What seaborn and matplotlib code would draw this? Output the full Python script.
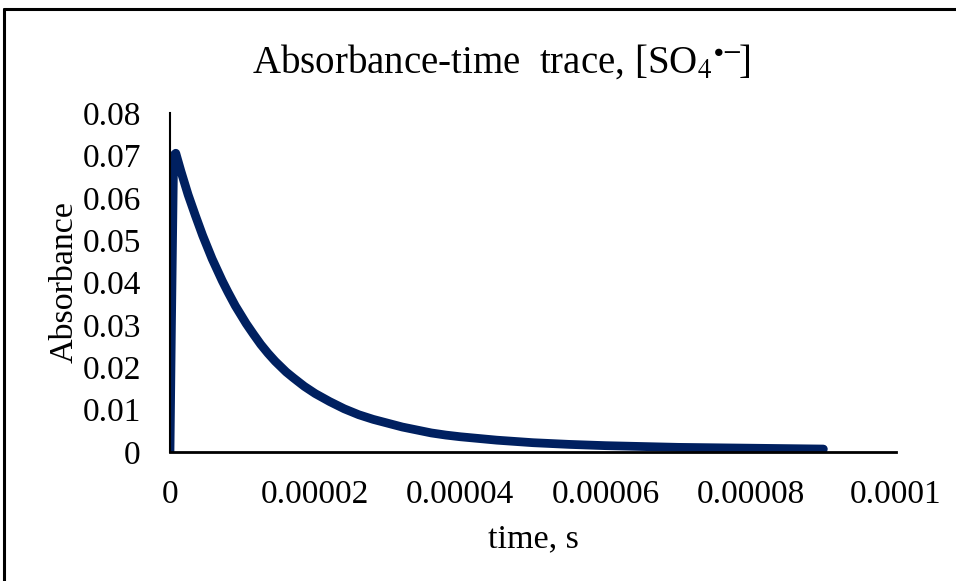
import matplotlib
matplotlib.use("Agg")
import matplotlib.pyplot as plt
from matplotlib.lines import Line2D
import pandas as pd
import seaborn as sns

# Transient absorbance of the sulfate radical anion after the flash
time_us = [0.0, 0.2, 0.5, 0.8, 1.5, 2.5, 3.5, 4.5, 5.8, 6.5, 7.2, 8.0, 9.0,
           10.5, 11.5, 12.5, 13.5, 14.5, 16.0, 17.0, 18.5, 20.0, 22.0, 24.0,
           26.0, 28.0, 30.0, 32.0, 34.0, 36.0, 38.0, 40.0, 45.0, 50.0, 55.0,
           60.0, 65.0, 70.0, 75.0, 80.0, 85.0, 90.0]
absorbance = [0.0, 0.030, 0.0700, 0.0705, 0.0663, 0.0607, 0.0558, 0.0511,
              0.0456, 0.0430, 0.0404, 0.0377, 0.0345, 0.0303, 0.0278,
              0.0254, 0.0233, 0.0214, 0.0189, 0.0175, 0.0155, 0.0138,
              0.0119, 0.0102, 0.0088, 0.0077, 0.0068, 0.0059, 0.0052,
              0.0045, 0.0040, 0.0036, 0.0028, 0.0022, 0.0018, 0.0015,
              0.0013, 0.0011, 0.0010, 0.0009, 0.0008, 0.0007]

x_ticks = [0, 0.00002, 0.00004, 0.00006, 0.00008, 0.0001]
x_tick_labels = ["0", "0.00002", "0.00004", "0.00006", "0.00008", "0.0001"]
y_ticks = [0, 0.01, 0.02, 0.03, 0.04, 0.05, 0.06, 0.07, 0.08]
y_tick_labels = ["0", "0.01", "0.02", "0.03", "0.04", "0.05", "0.06", "0.07", "0.08"]

df = pd.DataFrame({"time": [t * 1e-6 for t in time_us], "absorbance": absorbance})

sns.set_theme(style="white")
plt.rcParams["font.family"] = ["Liberation Serif", "DejaVu Serif"]
plt.rcParams["mathtext.fontset"] = "stix"

fig = plt.figure(figsize=(9.56, 5.81), dpi=100)
ax = fig.add_axes([0.1778, 0.222, 0.7594, 0.5835])

sns.lineplot(data=df, x="time", y="absorbance", ax=ax, color="#002060",
             linewidth=6.3, solid_capstyle="round", solid_joinstyle="round",
             sort=False)

ax.set_xlim(0, 0.0001)
ax.set_ylim(0, 0.08)
ax.set_xticks(x_ticks)
ax.set_xticklabels(x_tick_labels)
ax.set_yticks(y_ticks)
ax.set_yticklabels(y_tick_labels)
ax.tick_params(axis="both", length=0, labelsize=24, colors="black")
ax.tick_params(axis="x", pad=20)
ax.tick_params(axis="y", pad=21)

for side in ("top", "right"):
    ax.spines[side].set_visible(False)
ax.spines["left"].set_color("black")
ax.spines["left"].set_linewidth(1.5)
ax.spines["bottom"].set_color("black")
ax.spines["bottom"].set_linewidth(2.0)

ax.set_xlabel("time, s", fontsize=24.5, color="black", labelpad=10)
ax.set_ylabel("Absorbance", fontsize=24.5, color="black", labelpad=2)

fig.text(0.524, 0.893, r"Absorbance-time  trace, [SO$_4$$^{\bullet{-}}\!$]",
         ha="center", va="center", fontsize=28, color="black")

# Outer border along the top and left edges
fig.add_artist(Line2D([0.0045, 1.0], [0.984, 0.984], transform=fig.transFigure,
                      color="black", linewidth=2.2))
fig.add_artist(Line2D([0.0045, 0.0045], [0.0, 0.984], transform=fig.transFigure,
                      color="black", linewidth=2.2))

fig.savefig("out.png", dpi=100, facecolor="white")
